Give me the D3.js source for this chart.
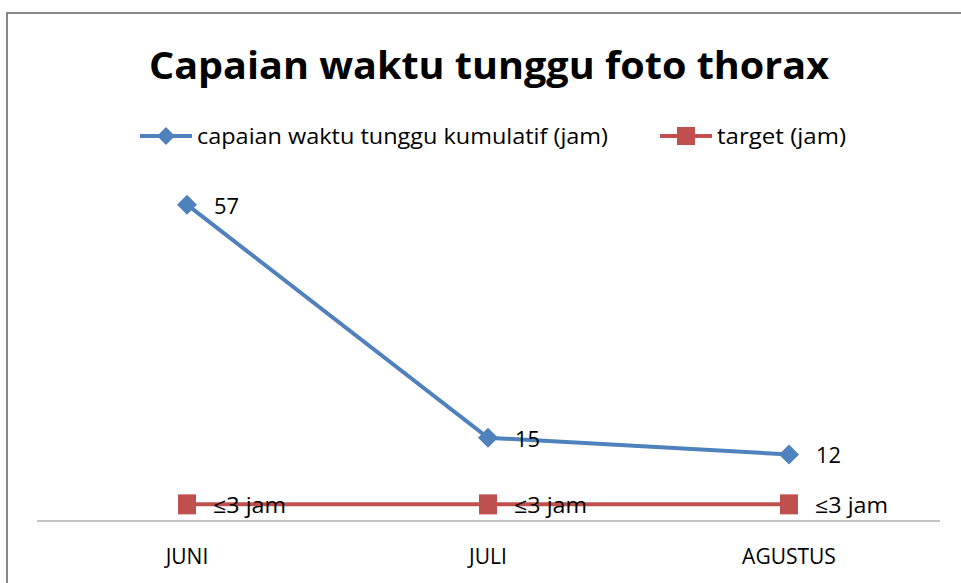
<!DOCTYPE html>
<html lang="en">
<head>
<meta charset="UTF-8">
<title>Capaian waktu tunggu foto thorax</title>
<script src="https://d3js.org/d3.v7.min.js"></script>
<style>
    body { margin: 0; background: #fff; }
    text { font-family: "Open Sans", "Liberation Sans", sans-serif; fill: #000; }
</style>
</head>
<body>
<svg id="chart" width="961" height="583"></svg>
<script>
    const months = ["JUNI", "JULI", "AGUSTUS"];
    const capaian = [57, 15, 12];
    const target = [3, 3, 3];
    const targetLabels = ["≤3 jam", "≤3 jam", "≤3 jam"];

    const BLUE = "#4F81BD";
    const RED = "#C0504D";

    const svg = d3.select("#chart");

    // outer frame
    svg.append("rect")
        .attr("x", 7).attr("y", 13)
        .attr("width", 970).attr("height", 590)
        .attr("fill", "#fff")
        .attr("stroke", "#888").attr("stroke-width", 2);

    // title
    svg.append("text")
        .attr("x", 489).attr("y", 79)
        .attr("text-anchor", "middle")
        .attr("font-size", 38).attr("font-weight", "bold")
        .attr("textLength", 680).attr("lengthAdjust", "spacingAndGlyphs")
        .text("Capaian waktu tunggu foto thorax");

    const x = d3.scalePoint().domain(months).range([187, 789]);
    const y = d3.scaleLinear().domain([0, 60]).range([521, 188]);

    // x axis line
    svg.append("line")
        .attr("x1", 37).attr("x2", 940)
        .attr("y1", y(0)).attr("y2", y(0))
        .attr("stroke", "#888").attr("stroke-width", 1);

    // category labels
    svg.selectAll(".tick-label").data(months).enter().append("text")
        .attr("class", "tick-label")
        .attr("x", d => x(d)).attr("y", 564)
        .attr("text-anchor", "middle")
        .attr("font-size", 21)
        .text(d => d);

    const line = d3.line().x((d, i) => x(months[i])).y(d => y(d));

    // target series
    svg.append("path").datum(target)
        .attr("d", line).attr("fill", "none")
        .attr("stroke", RED).attr("stroke-width", 4);
    svg.selectAll(".sq").data(target).enter().append("rect")
        .attr("x", (d, i) => x(months[i]) - 9).attr("y", d => y(d) - 10)
        .attr("width", 18).attr("height", 20)
        .attr("fill", RED);
    svg.selectAll(".tlab").data(targetLabels).enter().append("text")
        .attr("x", (d, i) => x(months[i]) + 26).attr("y", (d, i) => y(target[i]) + 9)
        .attr("font-size", 21)
        .attr("textLength", 73).attr("lengthAdjust", "spacingAndGlyphs")
        .text(d => d);

    // capaian series
    const diamond = d3.symbol().type(d3.symbolSquare).size(200);
    svg.append("path").datum(capaian)
        .attr("d", line).attr("fill", "none")
        .attr("stroke", BLUE).attr("stroke-width", 4);
    svg.selectAll(".dm").data(capaian).enter().append("path")
        .attr("transform", (d, i) => `translate(${x(months[i])},${y(d)}) rotate(45)`)
        .attr("d", diamond).attr("fill", BLUE);
    svg.selectAll(".clab").data(capaian).enter().append("text")
        .attr("x", (d, i) => x(months[i]) + 27).attr("y", d => y(d) + 9)
        .attr("font-size", 21)
        .attr("textLength", 25).attr("lengthAdjust", "spacingAndGlyphs")
        .text(d => d);

    // legend
    const legend = [
        { name: "capaian waktu tunggu kumulatif (jam)", color: BLUE, x: 140, shape: "diamond", w: 411 },
        { name: "target (jam)", color: RED, x: 660, shape: "square", w: 129 }
    ];
    legend.forEach(l => {
        svg.append("line")
            .attr("x1", l.x).attr("x2", l.x + 52)
            .attr("y1", 136).attr("y2", 136)
            .attr("stroke", l.color).attr("stroke-width", 4);
        if (l.shape === "diamond") {
            svg.append("path")
                .attr("transform", `translate(${l.x + 26},136) rotate(45)`)
                .attr("d", d3.symbol().type(d3.symbolSquare).size(160))
                .attr("fill", l.color);
        } else {
            svg.append("rect")
                .attr("x", l.x + 17).attr("y", 127)
                .attr("width", 18).attr("height", 18)
                .attr("fill", l.color);
        }
        svg.append("text")
            .attr("x", l.x + 57).attr("y", 144)
            .attr("font-size", 21)
            .attr("textLength", l.w).attr("lengthAdjust", "spacingAndGlyphs")
            .text(l.name);
    });
</script>
</body>
</html>
